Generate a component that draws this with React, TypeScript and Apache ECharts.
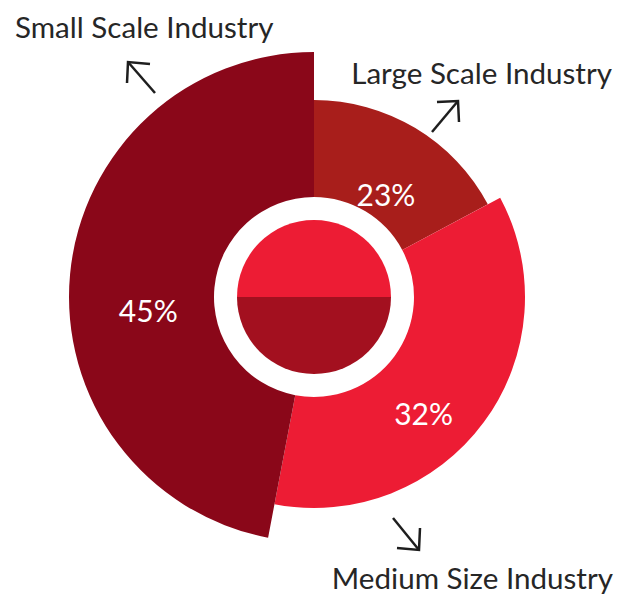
import React, { useEffect, useRef } from "react";
import * as echarts from "echarts";

// Categories clockwise from 12 o'clock
const categories = ["Large Scale Industry", "Medium Size Industry", "Small Scale Industry"];
// Printed percentages
const percentValues = [23, 32, 45];
// Angular share of each sector as drawn
const sectorShares = [17.2, 35.8, 47.0];
// Inner disc halves
const innerNames = ["Upper", "Lower"];
const innerHalves = [50, 50];

const sliceColors = ["#A81E1B", "#ED1C34", "#8A0719"];
const sliceRadius = [197, 211, 245];
const labelShift = [
  { dx: -6, dy: 27 },
  { dx: -18, dy: 22 },
  { dx: 9, dy: 30 },
];
const innerColors = ["#ED1C34", "#A3101F"];
const FONT = "Lato, 'Open Sans', sans-serif";
const CX = 314;
const CY = 297;

function arrow(shaft: number[][], head: number[][]) {
  return [
    { type: "polyline", shape: { points: shaft }, style: { stroke: "#1e1e1e", lineWidth: 2.5, fill: null }, silent: true },
    { type: "polyline", shape: { points: head }, style: { stroke: "#1e1e1e", lineWidth: 2.5, fill: null }, silent: true },
  ];
}

export default function App() {
  const ref = useRef<HTMLDivElement>(null);
  useEffect(() => {
    if (!ref.current) return;
    const chart = echarts.init(ref.current, null, { renderer: "svg" });
    const outerSeries = categories.map((_, i) => ({
      type: "pie",
      center: [CX, CY],
      radius: [100, sliceRadius[i]],
      startAngle: 90,
      clockwise: true,
      silent: true,
      avoidLabelOverlap: false,
      data: sectorShares.map((v, j) => ({
        name: categories[j],
        value: v,
        itemStyle: { color: j === i ? sliceColors[i] : "rgba(0,0,0,0)" },
        label: { show: j === i },
      })),
      label: {
        position: "inside",
        color: "#ffffff",
        fontSize: 30,
        fontFamily: FONT,
        formatter: () => percentValues[i] + "%",
      },
      labelLayout: labelShift[i],
      labelLine: { show: false },
      emphasis: { disabled: true },
    }));
    const innerSeries = {
      type: "pie",
      center: [CX, CY],
      radius: [0, 77],
      startAngle: 180,
      clockwise: true,
      silent: true,
      label: { show: false },
      labelLine: { show: false },
      emphasis: { disabled: true },
      data: innerHalves.map((v, j) => ({ name: innerNames[j], value: v, itemStyle: { color: innerColors[j] } })),
    };
    const textStyle = (x: number, y: number, text: string, align: string) => ({
      type: "text",
      x,
      y,
      silent: true,
      style: { text, fontSize: 29.6, fontFamily: FONT, fill: "#262626", align, verticalAlign: "middle" },
    });
    chart.setOption({
      animation: false,
      backgroundColor: "#ffffff",
      series: [...outerSeries, innerSeries],
      graphic: [
        textStyle(15, 26, categories[2], "left"),
        textStyle(612, 72, categories[0], "right"),
        textStyle(613, 577, categories[1], "right"),
        ...arrow([[155, 93], [128, 62]], [[150, 64], [128, 62], [127, 83]]),
        ...arrow([[432, 132], [458, 101]], [[437, 102], [458, 101], [459, 122]]),
        ...arrow([[393, 518], [419, 550]], [[420, 528], [419, 550], [397, 548]]),
      ],
    });
    return () => chart.dispose();
  }, []);
  return <div ref={ref} style={{ position: "fixed", left: 0, top: 0, width: 633, height: 594 }} />;
}
